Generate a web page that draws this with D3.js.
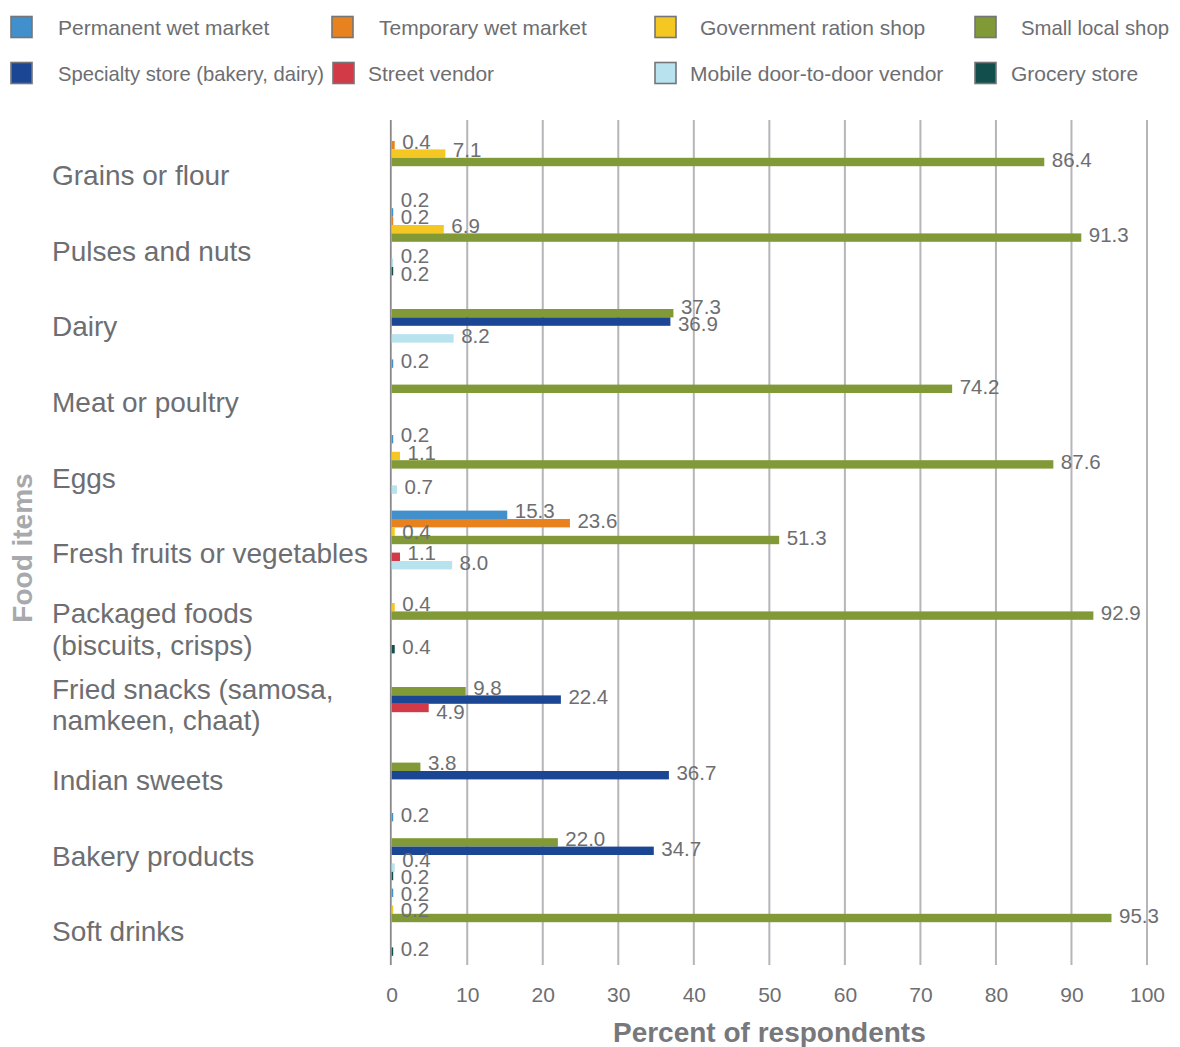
<!DOCTYPE html>
<html>
<head>
<meta charset="utf-8">
<script src="https://cdn.jsdelivr.net/npm/d3@7"></script>
<style>
  html, body { margin: 0; padding: 0; background: #ffffff; }
  svg { display: block; }
  text { font-family: "Liberation Sans", Arial, Helvetica, sans-serif; }
</style>
</head>
<body>
<svg id="chart" width="1180" height="1047"></svg>
<script>
// Food items (label lines per category)
const categoryLines = [
  ["Grains or flour"],
  ["Pulses and nuts"],
  ["Dairy"],
  ["Meat or poultry"],
  ["Eggs"],
  ["Fresh fruits or vegetables"],
  ["Packaged foods", "(biscuits, crisps)"],
  ["Fried snacks (samosa,", "namkeen, chaat)"],
  ["Indian sweets"],
  ["Bakery products"],
  ["Soft drinks"]
];

// Outlet types
const seriesNames = [
  "Permanent wet market",
  "Temporary wet market",
  "Government ration shop",
  "Small local shop",
  "Specialty store (bakery, dairy)",
  "Street vendor",
  "Mobile door-to-door vendor",
  "Grocery store"
];
const seriesColors = ["#4190cc", "#e8821e", "#f5c722", "#819a37", "#1a4694", "#d33a47", "#b7e2ee", "#124e4c"];

// Percent of respondents per food item (0 = not reported)
const permanentWetMarket   = [0,    0.2,  0,    0.2,  0.2,  15.3, 0,    0,    0,    0.2,  0.2];
const temporaryWetMarket   = [0.4,  0.2,  0,    0,    0,    23.6, 0,    0,    0,    0,    0];
const governmentRationShop = [7.1,  6.9,  0,    0,    1.1,  0.4,  0.4,  0,    0,    0,    0.2];
const smallLocalShop       = [86.4, 91.3, 37.3, 74.2, 87.6, 51.3, 92.9, 9.8,  3.8,  22.0, 95.3];
const specialtyStore       = [0,    0,    36.9, 0,    0,    0,    0,    22.4, 36.7, 34.7, 0];
const streetVendor         = [0,    0,    0,    0,    0,    1.1,  0,    4.9,  0,    0,    0];
const mobileVendor         = [0,    0.2,  8.2,  0,    0.7,  8.0,  0,    0,    0,    0.4,  0];
const groceryStore         = [0,    0.2,  0,    0,    0,    0,    0.4,  0,    0,    0.2,  0.2];

const seriesValues = [permanentWetMarket, temporaryWetMarket, governmentRationShop, smallLocalShop,
                      specialtyStore, streetVendor, mobileVendor, groceryStore];

const xTicks = [0, 10, 20, 30, 40, 50, 60, 70, 80, 90, 100];

// ---- layout ----
const svg = d3.select("#chart");
const textGray = "#6d6e71";

const x = d3.scaleLinear().domain([0, 100]).range([391.7, 1147]);
const y = d3.scaleBand()
  .domain(d3.range(categoryLines.length))
  .range([128.4, 960])
  .paddingInner(1 / 9)
  .paddingOuter(1 / 18);
const ySub = d3.scaleBand()
  .domain(d3.range(seriesNames.length))
  .range([0, y.bandwidth()])
  .padding(0);

const gridTop = 120, gridBottom = 965;

// gridlines
svg.append("g")
  .selectAll("line")
  .data(xTicks.filter(t => t !== 0))
  .join("line")
  .attr("x1", d => x(d)).attr("x2", d => x(d))
  .attr("y1", gridTop).attr("y2", gridBottom)
  .attr("stroke", "#b5b5ba")
  .attr("stroke-width", 2);

// x-axis tick labels
const xAxis = d3.axisBottom(x).tickValues(xTicks).tickSize(0).tickPadding(0).tickFormat(d3.format("d"));
const xAxisG = svg.append("g")
  .attr("transform", `translate(0, ${gridBottom})`)
  .call(xAxis);
xAxisG.select(".domain").remove();
xAxisG.selectAll("text")
  .attr("y", 37)
  .attr("dy", null)
  .attr("fill", textGray)
  .style("font-size", "21px")
  .style("font-family", "\"Liberation Sans\", Arial, sans-serif");

// zero axis line (drawn under the bars so tiny values stay visible)
svg.append("line")
  .attr("x1", x(0) - 0.9).attr("x2", x(0) - 0.9)
  .attr("y1", gridTop).attr("y2", gridBottom)
  .attr("stroke", "#8a8a8e")
  .attr("stroke-width", 1.8);

// bars
const barData = [];
seriesValues.forEach((vals, s) => {
  vals.forEach((v, c) => {
    if (v > 0) barData.push({ s, c, v });
  });
});

svg.append("g")
  .selectAll("rect")
  .data(barData)
  .join("rect")
  .attr("x", x(0))
  .attr("y", d => y(d.c) + ySub(d.s))
  .attr("width", d => x(d.v) - x(0))
  .attr("height", ySub.bandwidth())
  .attr("fill", d => seriesColors[d.s]);

// value labels with simple vertical collision avoidance
const fmt = d3.format(".1f");
const labelFont = 20.5;
const halfH = 8;
const labelG = svg.append("g");
const labels = barData.map(d => {
  const by0 = y(d.c) + ySub(d.s);
  const t = labelG.append("text")
    .attr("x", x(d.v) + 7.5)
    .attr("fill", textGray)
    .style("font-size", labelFont + "px")
    .text(fmt(d.v));
  const w = t.node().getComputedTextLength();
  const cy = by0 + ySub.bandwidth() / 2 - 2.5;
  return { d, node: t, x0: x(d.v) + 7.5, x1: x(d.v) + 7.5 + w, y: cy, y0: cy };
});
const obstacles = barData.map(d => ({
  d, x0: x(0), x1: x(d.v),
  y0: y(d.c) + ySub(d.s), y1: y(d.c) + ySub(d.s) + ySub.bandwidth()
}));
const minGap = 17.5;
for (let iter = 0; iter < 400; iter++) {
  for (let i = 0; i < labels.length; i++) {
    for (let j = i + 1; j < labels.length; j++) {
      const a = labels[i], b = labels[j];
      if (a.x0 < b.x1 + 2 && b.x0 < a.x1 + 2) {
        const dd = b.y - a.y;
        if (Math.abs(dd) < minGap) {
          const sgn = dd > 0 ? 1 : (dd < 0 ? -1 : (b.y0 >= a.y0 ? 1 : -1));
          const push = (minGap - Math.abs(dd)) / 2;
          a.y -= sgn * push;
          b.y += sgn * push;
        }
      }
    }
  }
  labels.forEach(l => {
    obstacles.forEach(o => {
      if (o.d === l.d) return;
      if (l.x0 < o.x1 && o.x0 < l.x1) {
        const top = l.y - halfH, bot = l.y + halfH;
        if (top < o.y1 && o.y0 < bot) {
          const oc = (o.y0 + o.y1) / 2;
          if (l.y <= oc) l.y -= (bot - o.y0) / 8;
          else l.y += (o.y1 - top) / 8;
        }
      }
    });
  });
}
labels.forEach(l => l.node.attr("y", l.y + labelFont * 0.36));

// category labels
const catG = svg.append("g");
categoryLines.forEach((lines, c) => {
  const cy = y(c) + y.bandwidth() / 2 + 9;
  const lh = 31.5;
  const startY = cy - (lines.length - 1) * lh / 2;
  const t = catG.append("text")
    .attr("x", 52)
    .attr("fill", textGray)
    .style("font-size", "28px");
  lines.forEach((ln, k) => {
    t.append("tspan")
      .attr("x", 52)
      .attr("y", startY + k * lh + 10)
      .text(ln);
  });
});

// axis titles
svg.append("text")
  .attr("x", (x(0) + x(100)) / 2)
  .attr("y", 1042)
  .attr("text-anchor", "middle")
  .attr("fill", "#77787b")
  .style("font-size", "28px")
  .style("font-weight", "bold")
  .text("Percent of respondents");

svg.append("text")
  .attr("transform", "translate(32, 548) rotate(-90)")
  .attr("text-anchor", "middle")
  .attr("fill", "#a7a9ac")
  .style("font-size", "28px")
  .style("font-weight", "bold")
  .text("Food items");

// legend
const legendLayout = [
  { sx: 11,  tx: 58,   row: 0 },
  { sx: 332, tx: 379,  row: 0 },
  { sx: 655, tx: 700,  row: 0 },
  { sx: 975, tx: 1021, row: 0 },
  { sx: 11,  tx: 58,   row: 1 },
  { sx: 333, tx: 368,  row: 1 },
  { sx: 655, tx: 690,  row: 1 },
  { sx: 975, tx: 1011, row: 1 }
];
const legendRowY = [27, 73];
const legendG = svg.append("g");
seriesNames.forEach((name, i) => {
  const L = legendLayout[i];
  const cy = legendRowY[L.row];
  legendG.append("rect")
    .attr("x", L.sx).attr("y", cy - 10.5)
    .attr("width", 21).attr("height", 21)
    .attr("fill", seriesColors[i])
    .attr("stroke", "#747578")
    .attr("stroke-width", 1.6);
  const t = legendG.append("text")
    .attr("x", L.tx).attr("y", cy + 7.5)
    .attr("fill", textGray)
    .style("font-size", "21px")
    .text(name);
  // keep each entry clear of the next swatch in its row
  const next = legendLayout.find((M, k) => k > i && M.row === L.row);
  const avail = (next ? next.sx : 1178) - L.tx - 9;
  const w = t.node().getComputedTextLength();
  if (w > avail) t.attr("textLength", avail).attr("lengthAdjust", "spacingAndGlyphs");
});
</script>
</body>
</html>
